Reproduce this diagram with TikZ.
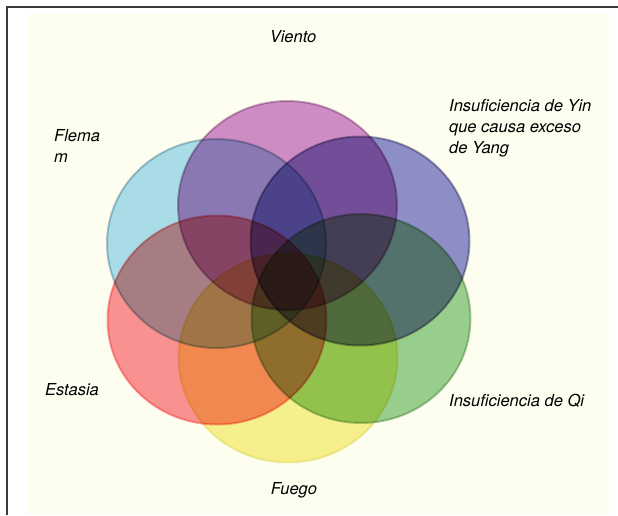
\documentclass[tikz,border=0pt]{standalone}
\usepackage{fontspec}
\newfontfamily\labelfont{TeX Gyre Heros}
\usetikzlibrary{positioning}

\definecolor{paper}{HTML}{FDFDF0}
\definecolor{frame}{HTML}{3A3A3A}
\definecolor{vientoc}{HTML}{CE8CC4}
\definecolor{flemac}{HTML}{AADCE8}
\definecolor{yinc}{HTML}{8E8EC6}
\definecolor{estasiac}{HTML}{FA9191}
\definecolor{qic}{HTML}{98CE8C}
\definecolor{fuegoc}{HTML}{F5F08C}

\tikzset{
    petal/.style={blend mode=multiply},
    rim/.style={line width=2pt, blend mode=multiply, draw opacity=0.55},
    tag/.style={inner sep=0pt, font=\labelfont\itshape\fontsize{16.5}{21}\selectfont}
}

\begin{document}
\begin{tikzpicture}[x=1pt, y=-1pt]
    % Frame and paper
    \useasboundingbox (0,0) rectangle (618,515);
    \fill[white] (0,0) rectangle (618,515);
    \fill[paper] (27,14) rectangle (609,515);
    \draw[frame, line width=1.5pt] (7,515) -- (7,7) -- (618,7);

    % Circles
    \begin{scope}[transparency group]
        \fill[petal, vientoc] (287.5,205.5) ellipse [x radius=109.5, y radius=104.5];
        \fill[petal, flemac] (216.5,243.5) ellipse [x radius=109.5, y radius=104.5];
        \fill[petal, yinc] (360,241) ellipse [x radius=109.5, y radius=104.5];
        \fill[petal, estasiac] (217,320) ellipse [x radius=109.5, y radius=104.5];
        \fill[petal, qic] (361,318.5) ellipse [x radius=109.5, y radius=104.5];
        \fill[petal, fuegoc] (288,358) ellipse [x radius=109.5, y radius=104.5];

        \draw[rim, vientoc!75!black] (287.5,205.5) ellipse [x radius=109.5, y radius=104.5];
        \draw[rim, flemac!70!black] (216.5,243.5) ellipse [x radius=109.5, y radius=104.5];
        \draw[rim, yinc!65!black] (360,241) ellipse [x radius=109.5, y radius=104.5];
        \draw[rim, estasiac!70!red] (217,320) ellipse [x radius=109.5, y radius=104.5];
        \draw[rim, qic!80!black] (361,318.5) ellipse [x radius=109.5, y radius=104.5];
        \draw[rim, fuegoc!95!black] (288,358) ellipse [x radius=109.5, y radius=104.5];
    \end{scope}

    % Labels
    \node[tag] (viento) at (293,37) {Viento};
    \node[tag, anchor=west, align=left] (flema) at (54,146) {Flema\\m};
    \node[tag, anchor=west, align=left] (yin) at (449,128) {Insuficiencia de Yin\\que causa exceso\\de Yang};
    \node[tag] (estasia) at (72,390) {Estasia};
    \node[tag, anchor=west] (qi) at (449,401) {Insuficiencia de Qi};
    \node[tag] (fuego) at (294,490) {Fuego};
\end{tikzpicture}
\end{document}
